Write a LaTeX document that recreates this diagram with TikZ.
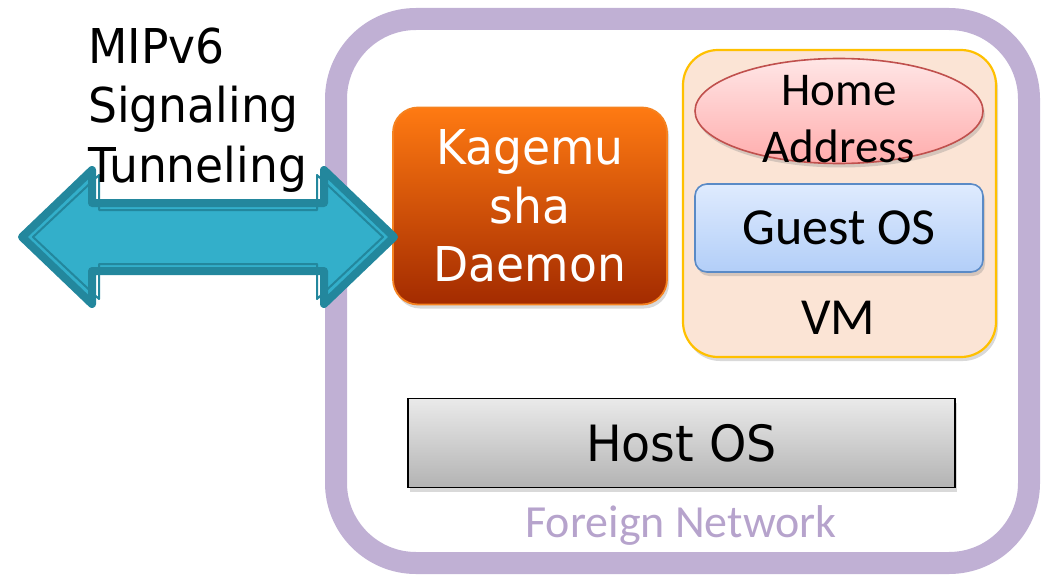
\documentclass[tikz,border=0pt]{standalone}
\usepackage{fontspec}
\newfontfamily\lucida[FakeStretch=0.95]{DejaVu Sans}
\newfontfamily\calibri{Carlito}
\usetikzlibrary{shapes.geometric,shadows}
\definecolor{framepurple}{HTML}{C0B0D4}
\definecolor{fntext}{HTML}{B6A3CC}
\definecolor{arrowfill}{HTML}{33AFCA}
\definecolor{arrowdark}{HTML}{23879D}
\definecolor{vmfill}{HTML}{FBE4D5}
\definecolor{vmborder}{HTML}{FFC000}
\definecolor{hatop}{HTML}{FFE6E6}
\definecolor{habot}{HTML}{FFACAC}
\definecolor{haborder}{HTML}{C0504D}
\definecolor{gotop}{HTML}{DFEBFE}
\definecolor{gobot}{HTML}{B2CEF8}
\definecolor{goborder}{HTML}{5A8AC6}
\definecolor{kdtop}{HTML}{FF7A12}
\definecolor{kdbot}{HTML}{A32B00}
\definecolor{kdborder}{HTML}{F58220}
\definecolor{hotop}{HTML}{EAEAEA}
\definecolor{hobot}{HTML}{B3B3B3}
\tikzset{
  shadowed/.style={drop shadow={shadow xshift=2pt, shadow yshift=-4pt, opacity=0.3}},
  boxbase/.style={inner sep=0pt, outer sep=0pt, align=center},
}
\begin{document}
\begin{tikzpicture}[x=1pt,y=-1pt]
\useasboundingbox (0,0) rectangle (1046,575);
% foreign network frame
\node[boxbase, draw=framepurple, line width=22pt, rounded corners=80pt,
      minimum width=693pt, minimum height=544pt] (fn) at (682.5,291) {};
% host OS
\node[boxbase, shadowed, draw=black, line width=1.6pt, top color=hotop, bottom color=hobot,
      minimum width=547pt, minimum height=89pt, font=\lucida\fontsize{50}{60}\selectfont]
      (host) at (681.5,443) {Host OS};
% VM
\node[boxbase, shadowed, draw=vmborder, fill=vmfill, line width=2.2pt, rounded corners=35pt,
      minimum width=313pt, minimum height=307pt] (vm) at (839.5,203.5) {};
\node[anchor=base, inner sep=0pt, font=\calibri\fontsize{52}{60}\selectfont] (vmtext) at (838,334) {VM};
% home address
\node[boxbase, shadowed, ellipse, draw=haborder, line width=1.6pt, top color=hatop, bottom color=habot,
      minimum width=288pt, minimum height=105pt] (ha) at (839,111) {};
\node[anchor=base, inner sep=0pt, align=center, font=\calibri\fontsize{47}{57}\selectfont]
      (hatext) at (839,162) {Home\\Address};
% guest OS
\node[boxbase, shadowed, draw=goborder, line width=1.6pt, rounded corners=12pt,
      top color=gotop, bottom color=gobot,
      minimum width=288pt, minimum height=88pt, font=\calibri\fontsize{52}{60}\selectfont]
      (guest) at (839,228) {Guest OS};
% Kagemusha daemon
\node[boxbase, shadowed, draw=kdborder, line width=1.8pt, rounded corners=25pt,
      top color=kdtop, bottom color=kdbot, text=white,
      minimum width=274pt, minimum height=197pt, font=\lucida\fontsize{48}{58.5}\selectfont]
      (kd) at (530,206) {Kagemu\\sha\\Daemon};
% double arrow
\coordinate (al) at (22,237);
\coordinate (ar) at (394,237);
\draw[draw=arrowdark, fill=arrowfill, line width=8pt, line join=round]
  (al) -- (92,170) -- (92,203) -- (324,203) -- (324,170) -- (ar)
  -- (324,304) -- (324,271) -- (92,271) -- (92,304) -- cycle;
\draw[draw=arrowdark, line width=2pt, line join=round]
  (33,237) -- (99,175) -- (99,210) -- (317,210) -- (317,175) -- (383,237)
  -- (317,299) -- (317,264) -- (99,264) -- (99,299) -- cycle;
% arrow label
\node[anchor=base west, inner sep=0pt, align=left, font=\lucida\fontsize{48}{59.5}\selectfont]
      (mip) at (88,182) {MIPv6\\Signaling\\Tunneling};
% frame label
\node[anchor=base, inner sep=0pt, text=fntext, font=\calibri\fontsize{46}{55}\selectfont]
      (fntitle) at (681,537) {Foreign Network};
\end{tikzpicture}
\end{document}
